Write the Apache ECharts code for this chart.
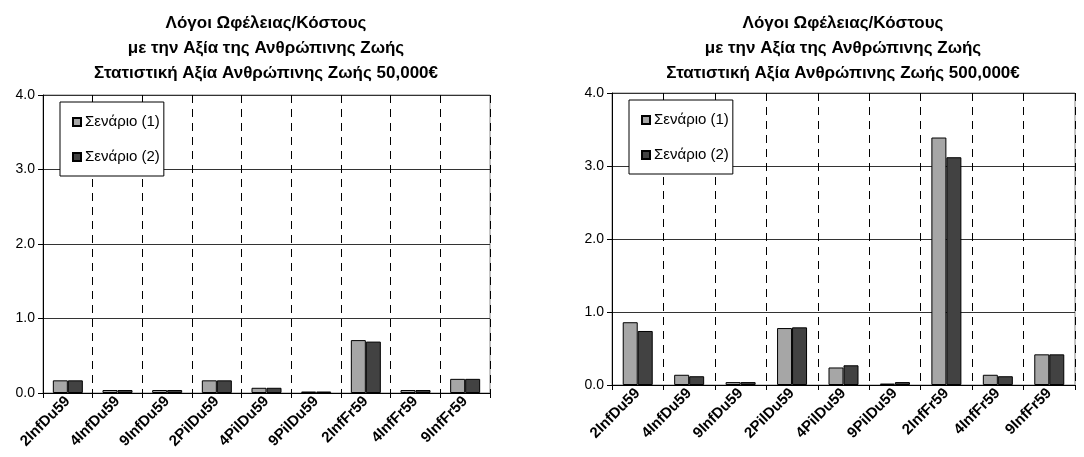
<!DOCTYPE html>
<html>
<head>
<meta charset="utf-8">
<script src="https://cdn.jsdelivr.net/npm/echarts@6/dist/echarts.min.js"></script>
<style>
  html, body { margin: 0; padding: 0; background: #fff; }
  #chart { width: 1084px; height: 457px; }
</style>
</head>
<body>
<div id="chart"></div>
<script>
// Scenario categories shared by both panels
const categories = ['2InfDu59', '4InfDu59', '9InfDu59', '2PilDu59', '4PilDu59', '9PilDu59', '2InfFr59', '4InfFr59', '9InfFr59'];
const seriesNames = ['Σενάριο (1)', 'Σενάριο (2)'];

// Benefit/cost ratios, value of statistical life 50,000€
const low1 = [0.17, 0.04, 0.04, 0.17, 0.07, 0.02, 0.71, 0.04, 0.19];
const low2 = [0.17, 0.04, 0.04, 0.17, 0.07, 0.02, 0.69, 0.04, 0.19];

// Benefit/cost ratios, value of statistical life 500,000€
const high1 = [0.86, 0.14, 0.04, 0.78, 0.24, 0.02, 3.39, 0.14, 0.42];
const high2 = [0.74, 0.12, 0.04, 0.79, 0.27, 0.04, 3.12, 0.12, 0.42];

const yTicks = [0, 1, 2, 3, 4];

const titleLow = 'Λόγοι Ωφέλειας/Κόστους\nμε την Αξία της Ανθρώπινης Ζωής\nΣτατιστική Αξία Ανθρώπινης Ζωής 50,000€';
const titleHigh = 'Λόγοι Ωφέλειας/Κόστους\nμε την Αξία της Ανθρώπινης Ζωής\nΣτατιστική Αξία Ανθρώπινης Ζωής 500,000€';

const FONT = '"Liberation Sans", Arial, sans-serif';
const colors = ['#a6a6a6', '#424242'];

function xAxis(gridIndex) {
  return {
    type: 'category', gridIndex, data: categories,
    axisLine: { lineStyle: { color: '#000', width: 1 } },
    axisTick: { show: true, length: 5, lineStyle: { color: '#000' } },
    splitLine: { show: true, lineStyle: { color: '#000', type: [8, 6], width: 1 } },
    axisLabel: { interval: 0, rotate: 45, fontFamily: FONT, fontSize: 15, fontWeight: 'bold', color: '#000', margin: 6 }
  };
}
function yAxis(gridIndex) {
  return {
    type: 'value', gridIndex, min: yTicks[0], max: yTicks[yTicks.length - 1], interval: 1,
    axisLine: { show: true, lineStyle: { color: '#000', width: 1 } },
    axisTick: { show: true, length: 5, lineStyle: { color: '#000' } },
    splitLine: { show: true, lineStyle: { color: '#333', width: 1 } },
    axisLabel: { fontFamily: FONT, fontSize: 14, color: '#000', margin: 8, formatter: v => v.toFixed(1) }
  };
}
function legend(left, top) {
  return {
    orient: 'vertical', left, top, data: seriesNames,
    backgroundColor: '#fff', borderColor: '#000', borderWidth: 1,
    padding: [12, 4, 11, 12], itemGap: 19, itemWidth: 8, itemHeight: 8, icon: 'rect',
    selectedMode: false,
    textStyle: { fontFamily: FONT, fontSize: 15, color: '#000', lineHeight: 16, padding: [0, 0, 0, -1] }
  };
}
function bars(name, data, idx, axisIndex) {
  return {
    type: 'bar', name, data, xAxisIndex: axisIndex, yAxisIndex: axisIndex,
    barWidth: 15, barGap: '0%', silent: true,
    itemStyle: { color: colors[idx], borderColor: '#000', borderWidth: 1 }
  };
}

const chart = echarts.init(document.getElementById('chart'), null, { renderer: 'canvas' });
const titleStyle = { fontFamily: FONT, fontSize: 17, fontWeight: 'bold', color: '#000', lineHeight: 25 };
chart.setOption({
  animation: false,
  title: [
    { text: titleLow, left: 266, top: 11, padding: 0, textAlign: 'center', textStyle: titleStyle },
    { text: titleHigh, left: 843, top: 11, padding: 0, textAlign: 'center', textStyle: titleStyle }
  ],
  legend: [legend(60, 102), legend(629, 100)],
  grid: [
    { left: 43, right: 594, top: 95, bottom: 64, show: true, borderColor: '#888', borderWidth: 1 },
    { left: 612, right: 9, top: 93, bottom: 72, show: true, borderColor: '#888', borderWidth: 1 }
  ],
  xAxis: [xAxis(0), xAxis(1)],
  yAxis: [yAxis(0), yAxis(1)],
  series: [
    bars(seriesNames[0], low1, 0, 0),
    bars(seriesNames[1], low2, 1, 0),
    bars(seriesNames[0], high1, 0, 1),
    bars(seriesNames[1], high2, 1, 1)
  ]
});
</script>
</body>
</html>
